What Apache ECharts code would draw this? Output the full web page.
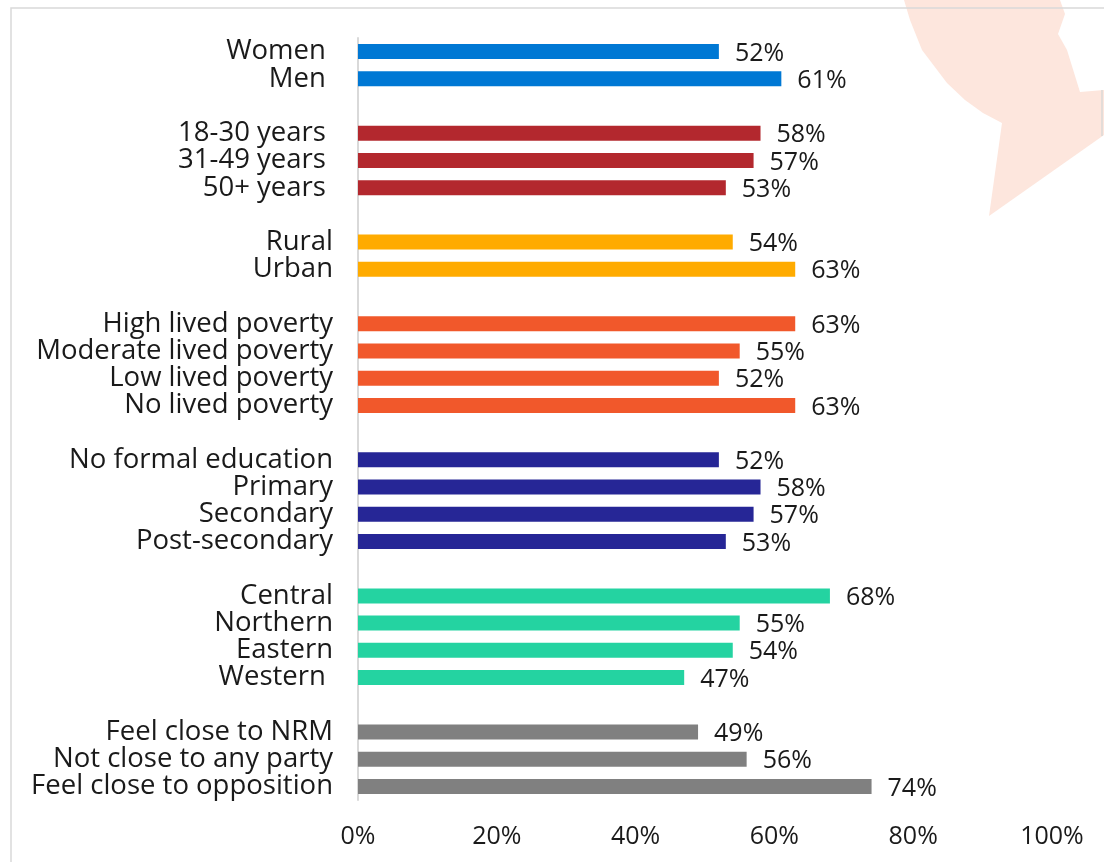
<!DOCTYPE html>
<html>
<head>
<meta charset="utf-8">
<title>Share by group</title>
<script src="https://cdn.jsdelivr.net/npm/echarts@6/dist/echarts.min.js"></script>
<style>
  html, body { margin: 0; padding: 0; background: #ffffff; }
  #chart { width: 1104px; height: 862px; }
</style>
</head>
<body>
<div id="chart"></div>
<script>
// Groups of respondents, top to bottom
const genderLabels = ['Women ', 'Men '];
const genderValues = [52, 61];

const ageLabels = ['18-30 years ', '31-49 years ', '50+ years '];
const ageValues = [58, 57, 53];

const locationLabels = ['Rural', 'Urban'];
const locationValues = [54, 63];

const povertyLabels = ['High lived poverty', 'Moderate lived poverty', 'Low lived poverty', 'No lived poverty'];
const povertyValues = [63, 55, 52, 63];

const educationLabels = ['No formal education', 'Primary', 'Secondary', 'Post-secondary'];
const educationValues = [52, 58, 57, 53];

const regionLabels = ['Central', 'Northern', 'Eastern', 'Western '];
const regionValues = [68, 55, 54, 47];

const partyLabels = ['Feel close to NRM', 'Not close to any party', 'Feel close to opposition'];
const partyValues = [49, 56, 74];

const xTicks = [0, 20, 40, 60, 80, 100];

// One colour per group
const groups = [
  { labels: genderLabels, values: genderValues, color: '#0078d4' },
  { labels: ageLabels, values: ageValues, color: '#b3282e' },
  { labels: locationLabels, values: locationValues, color: '#ffab00' },
  { labels: povertyLabels, values: povertyValues, color: '#f1582b' },
  { labels: educationLabels, values: educationValues, color: '#262696' },
  { labels: regionLabels, values: regionValues, color: '#24d3a1' },
  { labels: partyLabels, values: partyValues, color: '#808080' }
];

// Flatten groups into one category list with an empty row between groups
const categories = [];
const barData = [];
groups.forEach((g, gi) => {
  if (gi > 0) {
    categories.push('');
    barData.push(null);
  }
  g.labels.forEach((lab, i) => {
    categories.push(lab);
    barData.push({ value: g.values[i], itemStyle: { color: g.color } });
  });
});

const FONT = '"Open Sans", "Noto Sans", sans-serif';
const TEXT = '#1a1a1a';

const chart = echarts.init(document.getElementById('chart'), null, { renderer: 'canvas' });

chart.setOption({
  backgroundColor: '#ffffff',
  animation: false,
  graphic: [
    {
      // decorative emblem in the top-right corner
      type: 'polygon',
      z: -10,
      shape: {
        points: [
          [904, 0], [910, 20], [922, 50], [947, 83], [965, 100], [983, 113], [1002, 123],
          [989, 216], [1104, 135], [1104, 90], [1080, 92], [1067, 50], [1058, 34],
          [1065, 14], [1060, 0]
        ]
      },
      style: { fill: '#fde6dd' }
    },
    {
      type: 'line',
      z: -9,
      shape: { x1: 1102, y1: 90, x2: 1102, y2: 136 },
      style: { stroke: '#e3dcd8', lineWidth: 2 }
    },
    {
      // frame around the chart area
      type: 'rect',
      z: -5,
      shape: { x: 11, y: 8, width: 1200, height: 1000 },
      style: { fill: 'none', stroke: '#d9d9d9', lineWidth: 1.5 }
    }
  ],
  grid: {
    left: 358,
    right: 52,
    top: 38,
    bottom: 62,
    containLabel: false
  },
  xAxis: {
    type: 'value',
    min: xTicks[0],
    max: xTicks[xTicks.length - 1],
    interval: 20,
    axisLine: { show: false },
    axisTick: { show: false },
    splitLine: { show: false },
    axisLabel: {
      formatter: '{value}%',
      margin: 24,
      color: TEXT,
      fontSize: 25,
      fontFamily: FONT
    }
  },
  yAxis: {
    type: 'category',
    inverse: true,
    data: categories,
    axisLine: { show: true, lineStyle: { color: '#d9d9d9', width: 2 } },
    axisTick: { show: false },
    axisLabel: {
      margin: 25,
      color: TEXT,
      fontSize: 27.5,
      fontFamily: FONT,
      padding: [4, 0, 0, 0],
      interval: 0
    }
  },
  series: [
    {
      type: 'bar',
      data: barData,
      barWidth: 15,
      label: {
        show: true,
        position: 'right',
        distance: 16,
        offset: [0, 2],
        formatter: '{c}%',
        color: TEXT,
        fontSize: 25,
        fontFamily: FONT
      }
    }
  ]
});
</script>
</body>
</html>
